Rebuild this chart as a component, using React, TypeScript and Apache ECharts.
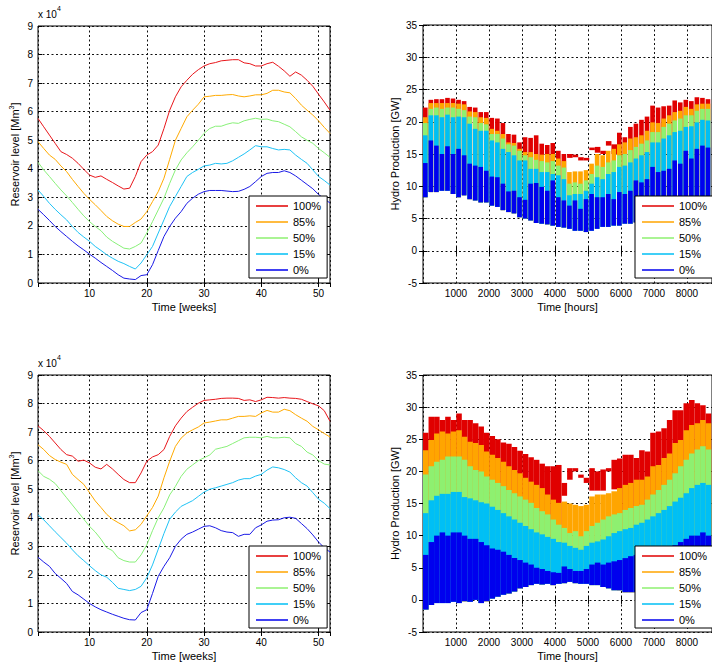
import React, { useEffect, useRef } from 'react';
import * as echarts from 'echarts';

const FONT = 'Liberation Sans, Arial, Helvetica, sans-serif';
const LEVELS = ['100%', '85%', '50%', '15%', '0%'];
const COLORS = ['#e00000', '#ffa500', '#8ef070', '#00bff5', '#0000ee'];
const LINE_COLORS = ['#e8161b', '#ffaa00', '#88f078', '#1ec2f5', '#1a1ae6'];

const WEEKS = Array.from({ length: 52 }, (_, i) => i + 1);
const HOURS_PER_WEEK = 168;

// ---- Top-left: reservoir level (x 10^4 Mm3) ----
const tl100 = [5.76,5.47,5.18,4.89,4.6,4.5,4.37,4.19,3.98,3.78,3.7,3.75,3.63,3.52,3.4,3.29,3.32,3.73,4.25,4.48,4.6,4.83,5.41,6.05,6.52,6.87,7.1,7.31,7.47,7.6,7.68,7.72,7.78,7.8,7.82,7.82,7.71,7.68,7.6,7.6,7.68,7.73,7.59,7.43,7.24,7.39,7.28,7.1,6.89,6.61,6.34,6.05];
const tl85 = [4.95,4.71,4.48,4.33,4.1,3.9,3.63,3.38,3.14,2.93,2.74,2.54,2.33,2.18,2.06,1.98,1.98,2.12,2.24,2.5,2.85,3.2,3.67,4.33,5.0,5.41,5.82,6.05,6.26,6.52,6.54,6.57,6.57,6.59,6.6,6.55,6.52,6.55,6.59,6.59,6.64,6.75,6.75,6.69,6.66,6.46,6.23,6.05,5.88,5.68,5.45,5.24];
const tl50 = [4.23,3.96,3.73,3.49,3.26,3.05,2.82,2.58,2.35,2.15,1.98,1.83,1.61,1.46,1.34,1.22,1.19,1.28,1.4,1.75,2.15,2.56,2.97,3.49,3.96,4.31,4.56,4.77,5.0,5.24,5.41,5.49,5.49,5.56,5.61,5.59,5.68,5.73,5.77,5.73,5.74,5.68,5.65,5.56,5.47,5.3,5.12,5.0,4.89,4.71,4.56,4.4];
const tl15 = [3.26,3.03,2.79,2.58,2.39,2.21,1.98,1.77,1.61,1.46,1.28,1.14,0.99,0.87,0.76,0.68,0.58,0.49,0.7,0.99,1.28,1.75,2.21,2.68,3.03,3.38,3.73,3.87,3.98,4.1,4.13,4.19,4.17,4.19,4.28,4.4,4.52,4.66,4.81,4.77,4.77,4.71,4.66,4.68,4.66,4.48,4.33,4.19,3.96,3.73,3.59,3.43];
const tl0 = [2.58,2.39,2.19,1.98,1.8,1.63,1.46,1.3,1.16,1.01,0.87,0.72,0.58,0.44,0.29,0.17,0.14,0.12,0.26,0.29,0.64,1.14,1.63,1.98,2.27,2.5,2.79,2.97,3.11,3.2,3.24,3.24,3.24,3.22,3.2,3.21,3.28,3.38,3.55,3.73,3.84,3.87,3.87,3.93,3.87,3.75,3.6,3.45,3.3,3.1,2.95,2.8];

// ---- Bottom-left: reservoir level (x 10^4 Mm3) ----
const bl100 = [7.22,7.05,6.85,6.62,6.39,6.21,6.16,5.98,6.02,5.92,5.77,5.71,5.87,5.71,5.52,5.34,5.23,5.23,5.57,5.98,6.13,6.21,6.39,6.85,7.22,7.49,7.72,7.87,8.01,8.11,8.13,8.15,8.18,8.19,8.19,8.18,8.11,8.13,8.07,8.13,8.22,8.21,8.19,8.21,8.19,8.18,8.15,8.07,7.99,7.92,7.75,7.38];
const bl85 = [6.56,6.39,6.18,6.04,5.95,5.87,5.52,5.34,5.17,4.88,4.59,4.36,4.12,3.95,3.83,3.72,3.54,3.58,3.77,4.07,4.36,4.76,5.4,5.98,6.5,6.79,6.97,7.08,7.18,7.32,7.35,7.39,7.43,7.43,7.49,7.55,7.55,7.57,7.55,7.67,7.76,7.7,7.7,7.8,7.75,7.61,7.49,7.38,7.2,7.08,6.95,6.83];
const bl50 = [5.65,5.45,5.35,5.2,4.95,4.7,4.45,4.2,3.95,3.7,3.5,3.25,2.95,2.85,2.6,2.5,2.45,2.45,2.7,3.05,3.55,4.0,4.35,4.8,5.1,5.45,5.7,5.85,6.0,6.1,6.2,6.4,6.45,6.5,6.6,6.7,6.8,6.82,6.82,6.8,6.85,6.8,6.8,6.82,6.8,6.6,6.5,6.3,6.2,6.0,5.88,5.85];
const bl15 = [4.1,3.93,3.72,3.51,3.31,3.11,2.88,2.67,2.5,2.32,2.15,2.0,1.92,1.74,1.53,1.49,1.45,1.49,1.6,1.9,2.35,2.9,3.45,3.95,4.2,4.4,4.5,4.6,4.75,4.9,5.0,5.05,5.11,5.17,5.23,5.32,5.37,5.37,5.46,5.52,5.67,5.78,5.75,5.69,5.6,5.4,5.23,5.11,4.88,4.65,4.51,4.32];
const bl0 = [2.62,2.45,2.3,2.05,1.88,1.7,1.42,1.3,1.15,1.0,0.88,0.78,0.7,0.62,0.55,0.48,0.43,0.42,0.68,0.78,1.35,1.95,2.3,2.6,3.0,3.25,3.42,3.5,3.6,3.7,3.72,3.65,3.55,3.5,3.48,3.35,3.42,3.42,3.65,3.75,3.88,3.92,3.93,4.0,4.02,3.98,3.8,3.62,3.4,3.15,2.95,2.8];

// ---- Top-right: weekly upper edge of hourly hydro production (GW) ----
const tr100 = [22.2,23.4,23.5,23.5,23.7,23.6,23.4,23.2,22.3,22.2,21.5,21.5,20.6,20.5,19.8,18.1,18.0,16.8,17.6,17.5,17.9,16.6,16.4,16.7,15.5,15.0,15.0,14.9,14.5,14.4,16.0,16.1,15.5,17.0,16.5,18.3,17.6,19.2,19.7,20.3,20.8,22.5,22.2,22.4,22.5,23.3,23.0,23.4,23.2,23.8,23.7,23.5];
const tr100Low = [null,null,null,null,null,null,null,null,null,null,null,null,null,null,null,null,null,null,null,null,null,null,null,null,null,null,14.4,14.5,14.0,14.0,15.6,15.2,15.0,16.3,15.0,null,null,null,null,null,null,null,null,null,null,null,null,null,null,null,null,null];
const tr85 = [20.7,22.9,22.9,22.9,22.9,22.9,22.8,22.7,21.6,21.5,20.7,20.6,18.9,18.6,18.1,16.8,16.7,15.8,15.3,15.3,15.0,14.9,15.0,15.0,14.3,13.9,12.2,12.3,12.3,12.5,13.5,15.0,14.8,15.5,15.8,16.5,16.8,17.4,17.6,17.9,18.6,19.9,19.8,20.5,21.0,21.5,21.7,22.3,22.0,22.7,22.8,22.8];
const tr50 = [19.8,22.0,22.2,22.0,22.2,22.2,22.0,21.8,20.8,20.7,19.8,19.6,18.1,18.1,17.4,16.5,16.3,15.5,14.8,14.5,14.1,13.9,13.7,13.9,13.2,12.9,10.4,10.6,10.4,10.9,11.9,13.2,13.0,13.7,14.0,14.8,15.0,15.6,16.1,16.6,17.1,18.4,18.4,19.2,19.7,20.2,20.5,21.0,21.0,21.7,22.0,22.0];
const tr15 = [17.9,21.0,21.0,20.7,21.1,20.7,20.8,20.7,19.7,18.9,18.6,18.6,17.1,16.8,15.8,15.3,14.8,14.0,14.0,12.7,12.7,12.2,12.2,11.9,11.7,11.1,8.6,8.8,8.8,9.3,10.4,11.4,11.1,11.9,12.2,13.0,13.2,13.7,14.3,14.8,15.3,16.8,16.8,17.4,17.9,18.4,18.6,19.2,19.3,19.9,20.3,20.2];
const tr0 = [13.6,17.1,16.3,15.0,16.2,15.0,15.8,14.8,13.5,13.2,13.0,12.4,11.5,11.4,10.4,9.2,9.3,8.3,7.9,10.4,10.5,9.9,9.3,10.9,8.3,7.8,7.0,7.8,6.5,8.0,8.8,8.3,8.3,8.8,8.0,9.1,8.8,9.3,10.9,10.6,11.1,13.0,12.2,12.4,12.7,14.0,13.5,15.5,14.3,15.8,16.3,16.0];
const tr0Low = [8.3,9.1,9.1,9.3,9.3,8.8,8.3,8.6,8.0,7.8,7.5,7.5,7.0,6.8,6.3,6.0,5.8,5.2,5.0,4.7,4.3,4.2,4.1,3.9,3.7,3.6,3.4,3.1,3.1,2.9,3.1,3.4,3.7,3.7,3.9,3.9,4.2,4.2,4.4,4.5,4.7,5.0,5.3,5.6,6.0,6.3,6.6,7.0,7.3,7.6,8.0,8.2];

// ---- Bottom-right: weekly upper edge of hourly hydro production (GW) ----
const br100 = [26,28.5,28.5,28,28.5,28,29,28,28,27.5,27,26,25.5,25,24.5,24.3,23.8,23.2,22.7,22.2,21.8,21.2,20.8,20.8,21.0,18.2,20.5,20.5,19.5,19.0,20.5,20.0,20.3,20.5,21.8,22.0,22.6,22.6,22.1,23.3,23.1,26.0,26.2,26.7,28.0,29.5,29.5,30.6,31.1,30.6,30.3,29.0];
const br100Low = [null,null,null,null,null,null,null,null,null,null,null,null,null,null,null,null,null,null,null,null,null,null,null,null,null,16.2,18.7,20.0,19.0,18.2,17.0,17.0,17.0,20.0,17.2,null,null,null,null,null,null,null,null,null,null,null,null,null,null,null,null,null];
const br85 = [23.3,24.9,25.9,26.2,25.9,26.2,26.4,25.4,24.6,24.4,24.1,23.1,22.6,22.1,21.5,20.8,20.2,19.7,19.0,18.4,17.9,17.4,16.4,15.6,15.1,15.3,15.0,14.8,14.6,14.8,16.1,16.4,16.4,16.6,16.9,17.4,17.9,18.2,18.7,18.7,19.2,20.8,21.0,22.1,22.8,24.4,24.9,26.4,27.2,27.5,28.0,27.5];
const br50 = [19.5,20.8,21.5,21.8,22.3,22.3,22.3,21.8,20.8,20.2,20.0,19.2,18.7,18.2,17.7,17.1,16.6,16.1,15.6,15.1,14.3,13.8,13.3,12.5,11.7,11.2,10.4,10.7,9.9,10.7,11.5,12.0,12.5,13.0,13.3,13.5,14.0,14.3,14.6,14.8,15.6,16.4,17.1,17.9,18.7,19.7,20.8,21.8,22.8,23.4,23.9,23.4];
const br15 = [13.5,15.5,16.2,16.5,16.5,16.8,16.8,16.0,15.8,15.5,15.2,15.0,14.5,14.0,13.5,13.0,12.5,12.0,11.5,11.0,10.5,10.2,9.8,9.5,9.0,8.9,8.4,8.1,7.8,8.4,8.9,9.1,9.4,9.9,10.4,10.7,11.0,11.2,11.7,12.0,12.5,13.0,13.5,14.0,14.6,15.3,15.9,16.6,17.4,17.9,18.2,17.9];
const br0 = [7.0,9.0,10.0,10.5,10.0,10.5,10.5,10.0,9.5,9.5,9.0,8.5,8.0,7.8,7.5,7.0,6.5,6.2,5.8,5.5,5.0,4.8,4.5,4.3,4.2,5.2,4.8,4.5,4.5,4.8,5.5,5.8,5.5,5.8,6.0,6.2,6.5,6.8,7.0,7.2,7.4,7.6,7.8,8.0,8.0,8.5,9.0,9.5,10.0,10.0,10.5,10.0];
const br0Low = [-1.5,-0.8,-0.5,-0.5,-0.5,-0.3,-0.5,-0.2,-0.3,0,-0.5,-0.2,0.2,0.5,0.8,1.0,1.3,1.8,2.0,2.3,2.5,2.4,2.5,2.3,2.5,2.6,2.8,2.6,2.5,2.5,2.3,2.3,2.0,1.8,1.5,1.5,1.2,1.2,1.2,1.2,1.0,1.0,1.0,0.8,0.8,0.8,0.7,0.7,0.6,0.6,0.5,0.5];

const axisText = { color: '#000', fontFamily: FONT };
const gridDash = { show: true, lineStyle: { color: '#111', type: [2, 2.5] as any, width: 1 } };
const tickIn = { show: true, inside: true, length: 4, lineStyle: { color: '#000' } };
const plain = (v: number) => String(v);

function lineSeries(values: number[][], gridIdx: number) {
  return values.map((arr, k) => ({
    type: 'line',
    name: LEVELS[k],
    xAxisIndex: gridIdx,
    yAxisIndex: gridIdx,
    data: WEEKS.map((w, i) => [w, arr[i]]),
    symbol: 'none',
    lineStyle: { width: 1, color: LINE_COLORS[k] },
    itemStyle: { color: LINE_COLORS[k] },
    z: 3,
  }));
}

function blockSeries(his: number[][], redLow: (number | null)[], blueLow: number[], gridIdx: number, span: number) {
  return his.map((arr, k) => ({
    type: 'custom',
    name: LEVELS[k],
    xAxisIndex: gridIdx,
    yAxisIndex: gridIdx,
    clip: true,
    itemStyle: { color: COLORS[k] },
    encode: { x: 0, y: [1, 2] },
    data: WEEKS.map((w, i) => {
      const thin = k === 0 && redLow[i] != null;
      const lo = thin ? (redLow[i] as number) : blueLow[i];
      return [(w - 1) * HOURS_PER_WEEK, lo, arr[i], thin ? HOURS_PER_WEEK : span];
    }),
    renderItem: (params: any, api: any) => {
      const x0 = api.value(0);
      const lo = api.value(1);
      const hi = api.value(2);
      const w = api.value(3);
      const p1 = api.coord([x0, hi]);
      const p2 = api.coord([x0 + w, lo]);
      return {
        type: 'rect',
        shape: { x: p1[0], y: p1[1], width: p2[0] - p1[0], height: Math.max(p2[1] - p1[1], 1.5) },
        style: { fill: COLORS[k] },
      };
    },
    z: 3,
  }));
}

const GRIDS = [
  { left: 38, top: 26, width: 292, height: 257 },
  { left: 423, top: 25, width: 293, height: 258 },
  { left: 38, top: 375, width: 292, height: 258 },
  { left: 423, top: 375, width: 293, height: 258 },
];

function buildOption() {
  const isRight = (g: number) => g % 2 === 1;
  const xMain = GRIDS.map((_, g) =>
    isRight(g)
      ? {
          type: 'value', gridIndex: g, min: 0, max: 8760, interval: 1000,
          axisLine: { show: false }, axisTick: tickIn, splitLine: gridDash,
          axisLabel: { ...axisText, fontSize: 10, margin: 5, showMinLabel: false, showMaxLabel: false, formatter: plain },
          name: 'Time [hours]', nameLocation: 'middle', nameGap: 17,
          nameTextStyle: { ...axisText, fontSize: 11, lineHeight: 14 },
        }
      : {
          type: 'value', gridIndex: g, min: 1, max: 52, splitNumber: 5,
          axisLine: { show: false }, axisTick: tickIn, splitLine: gridDash,
          axisLabel: { ...axisText, fontSize: 10, margin: 5, showMinLabel: false, showMaxLabel: false, formatter: plain },
          name: 'Time [weeks]', nameLocation: 'middle', nameGap: 17,
          nameTextStyle: { ...axisText, fontSize: 11, lineHeight: 14 },
        }
  );
  const xTop = GRIDS.map((_, g) => ({
    type: 'value', gridIndex: g, position: 'top',
    ...(isRight(g) ? { min: 0, max: 8760, interval: 1000 } : { min: 1, max: 52, splitNumber: 5 }),
    axisLine: { show: false }, axisTick: tickIn, splitLine: { show: false }, axisLabel: { show: false },
  }));
  const yMain = GRIDS.map((_, g) =>
    isRight(g)
      ? {
          type: 'value', gridIndex: g, min: -5, max: 35, interval: 5,
          axisLine: { show: false }, axisTick: tickIn, splitLine: gridDash,
          axisLabel: { ...axisText, fontSize: 10, margin: 6, formatter: plain },
          name: 'Hydro Production [GW]', nameLocation: 'middle', nameGap: 19,
          nameTextStyle: { ...axisText, fontSize: 11, lineHeight: 14 },
        }
      : {
          type: 'value', gridIndex: g, min: 0, max: 9, interval: 1,
          axisLine: { show: false }, axisTick: tickIn, splitLine: gridDash,
          axisLabel: { ...axisText, fontSize: 10, margin: 5, formatter: plain },
          name: 'Reservoir level [Mm{s|3}]', nameLocation: 'middle', nameGap: 16,
          nameTextStyle: {
            ...axisText, fontSize: 11, lineHeight: 14,
            rich: { s: { fontSize: 7, lineHeight: 7, verticalAlign: 'top', fontFamily: FONT, color: '#000' } },
          },
        }
  );
  const yRight = GRIDS.map((_, g) => ({
    type: 'value', gridIndex: g, position: 'right',
    ...(isRight(g) ? { min: -5, max: 35, interval: 5 } : { min: 0, max: 9, interval: 1 }),
    axisLine: { show: false }, axisTick: tickIn, splitLine: { show: false }, axisLabel: { show: false },
  }));

  const legendData = LEVELS.map((n, k) => ({
    name: n,
    icon: 'path://M0,0H32V1.5H0Z',
    itemStyle: { color: COLORS[k] },
  }));
  const legendPos = [
    { left: 249, top: 196 },
    { left: 635, top: 196 },
    { left: 249, top: 546 },
    { left: 635, top: 546 },
  ];
  const legend = legendPos.map((p) => ({
    ...p,
    orient: 'vertical',
    data: legendData,
    itemWidth: 32,
    itemHeight: 14,
    itemGap: 2,
    padding: [3, 6, 1, 7],
    backgroundColor: '#fff',
    borderColor: '#000',
    borderWidth: 1,
    borderRadius: 0,
    selectedMode: false,
    textStyle: { ...axisText, fontSize: 11, lineHeight: 14 },
    z: 10,
  }));

  const sci = (top: number) => ({
    type: 'text',
    left: 38,
    top,
    style: {
      text: '{a|x 10}{s|4}',
      rich: {
        a: { fontSize: 10, lineHeight: 14, verticalAlign: 'bottom', fontFamily: FONT, fill: '#000', color: '#000' },
        s: { fontSize: 7, lineHeight: 7, verticalAlign: 'top', fontFamily: FONT, fill: '#000', color: '#000' },
      },
    },
  });

  return {
    animation: false,
    backgroundColor: '#fff',
    textStyle: { fontFamily: FONT },
    grid: GRIDS.map((g) => ({ ...g, show: true, borderColor: '#000', borderWidth: 1, backgroundColor: '#fff' })),
    xAxis: [...xMain, ...xTop],
    yAxis: [...yMain, ...yRight],
    legend,
    graphic: [sci(5), sci(354)],
    series: [
      ...lineSeries([tl100, tl85, tl50, tl15, tl0], 0),
      ...blockSeries([tr100, tr85, tr50, tr15, tr0], tr100Low, tr0Low, 1, 140),
      ...lineSeries([bl100, bl85, bl50, bl15, bl0], 2),
      ...blockSeries([br100, br85, br50, br15, br0], br100Low, br0Low, 3, 168),
    ],
  };
}

export default function App() {
  const ref = useRef<HTMLDivElement>(null);
  useEffect(() => {
    if (!ref.current) return;
    const chart = echarts.init(ref.current, undefined, { renderer: 'svg' });
    chart.setOption(buildOption() as any);
    return () => chart.dispose();
  }, []);
  return (
    <div
      ref={ref}
      style={{ position: 'absolute', left: 0, top: 0, width: 712, height: 664, overflow: 'hidden', background: '#fff' }}
    />
  );
}
